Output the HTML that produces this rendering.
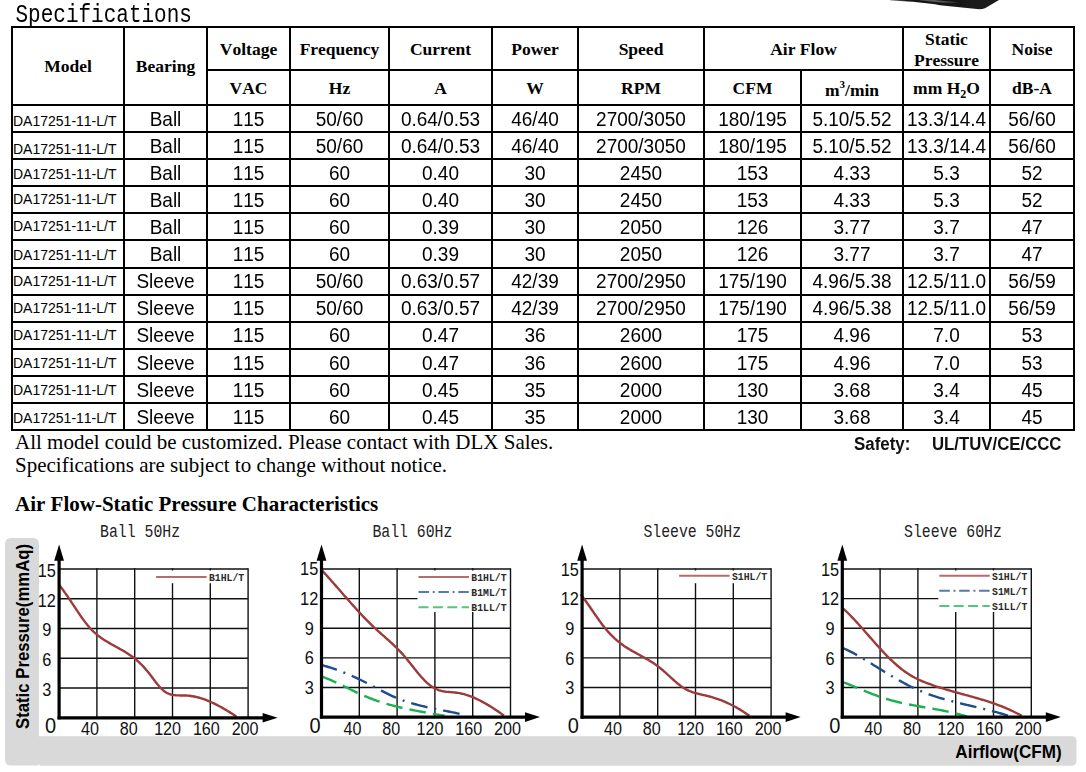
<!DOCTYPE html>
<html><head><meta charset="utf-8">
<style>
html,body{margin:0;padding:0;background:#fff;}
body{width:1086px;height:772px;position:relative;overflow:hidden;font-kerning:none;}
.l{position:absolute;background:#000;}
.t{position:absolute;white-space:nowrap;text-align:center;line-height:1;}
.h{font-family:"Liberation Serif",serif;font-weight:bold;font-size:17.5px;color:#000;}
.d{font-family:"Liberation Sans",sans-serif;font-size:19px;color:#000;}
.d span{display:inline-block;transform:scaleY(1.07);}
.m{font-family:"Liberation Sans",sans-serif;font-size:14px;color:#000;}
.mono{font-family:"Liberation Mono",monospace;}
svg text{font-kerning:none;}
</style></head><body>

<svg style="position:absolute;left:0;top:0" width="1086" height="30">
<defs><linearGradient id="fg" x1="0" y1="0" x2="1" y2="0">
<stop offset="0" stop-color="#ccc"/><stop offset="0.1" stop-color="#666"/><stop offset="0.2" stop-color="#151515"/><stop offset="1" stop-color="#1c1c1c"/></linearGradient>
<filter id="fb" x="-5%" y="-50%" width="110%" height="200%"><feGaussianBlur stdDeviation="0.7"/></filter></defs>
<g filter="url(#fb)">
<path d="M884,-2 L999,-2 L999,0 L985,8.3 Q981,9.6 977,9.1 L962,7.5 L940,5.2 L935,4.2 L913,1.7 L891,0.6 Z" fill="url(#fg)"/>
<path d="M918,0 Q940,3.2 958,2.4 Q945,1.2 935,0 Z" fill="#777" opacity="0.7"/>
</g>
</svg>
<div class="t mono" style="left:15.5px;top:2.5px;font-size:21px;text-align:left;transform:scaleY(1.186);transform-origin:0 0;">Specifications</div>
<div class="l" style="left:11px;top:26.00px;width:1064px;height:2px"></div>
<div class="l" style="left:206px;top:69.00px;width:869px;height:2px"></div>
<div class="l" style="left:11px;top:104.00px;width:1064px;height:2px"></div>
<div class="l" style="left:11px;top:131.08px;width:1064px;height:2px"></div>
<div class="l" style="left:11px;top:158.17px;width:1064px;height:2px"></div>
<div class="l" style="left:11px;top:185.25px;width:1064px;height:2px"></div>
<div class="l" style="left:11px;top:212.33px;width:1064px;height:2px"></div>
<div class="l" style="left:11px;top:239.42px;width:1064px;height:2px"></div>
<div class="l" style="left:11px;top:266.50px;width:1064px;height:2px"></div>
<div class="l" style="left:11px;top:293.58px;width:1064px;height:2px"></div>
<div class="l" style="left:11px;top:320.67px;width:1064px;height:2px"></div>
<div class="l" style="left:11px;top:347.75px;width:1064px;height:2px"></div>
<div class="l" style="left:11px;top:374.83px;width:1064px;height:2px"></div>
<div class="l" style="left:11px;top:401.92px;width:1064px;height:2px"></div>
<div class="l" style="left:11px;top:429.00px;width:1064px;height:2px"></div>
<div class="l" style="left:11px;top:26.00px;width:2px;height:405.00px"></div>
<div class="l" style="left:123px;top:26.00px;width:2px;height:405.00px"></div>
<div class="l" style="left:206px;top:26.00px;width:2px;height:405.00px"></div>
<div class="l" style="left:289px;top:26.00px;width:2px;height:405.00px"></div>
<div class="l" style="left:388px;top:26.00px;width:2px;height:405.00px"></div>
<div class="l" style="left:491px;top:26.00px;width:2px;height:405.00px"></div>
<div class="l" style="left:577px;top:26.00px;width:2px;height:405.00px"></div>
<div class="l" style="left:703px;top:26.00px;width:2px;height:405.00px"></div>
<div class="l" style="left:800px;top:69.00px;width:2px;height:362.00px"></div>
<div class="l" style="left:902px;top:26.00px;width:2px;height:405.00px"></div>
<div class="l" style="left:989px;top:26.00px;width:2px;height:405.00px"></div>
<div class="l" style="left:1073px;top:26.00px;width:2px;height:405.00px"></div>
<div class="t h" style="left:13px;width:110px;top:57.50px;">Model</div>
<div class="t h" style="left:125px;width:81px;top:57.50px;">Bearing</div>
<div class="t h" style="left:208px;width:81px;top:41.00px;">Voltage</div>
<div class="t h" style="left:291px;width:97px;top:41.00px;">Frequency</div>
<div class="t h" style="left:390px;width:101px;top:41.00px;">Current</div>
<div class="t h" style="left:493px;width:84px;top:41.00px;">Power</div>
<div class="t h" style="left:579px;width:124px;top:41.00px;">Speed</div>
<div class="t h" style="left:705px;width:197px;top:41.00px;">Air Flow</div>
<div class="t h" style="left:904px;width:85px;top:29.00px;line-height:21px;">Static<br>Pressure</div>
<div class="t h" style="left:991px;width:82px;top:41.00px;">Noise</div>
<div class="t h" style="left:208px;width:81px;top:80.30px;">VAC</div>
<div class="t h" style="left:291px;width:97px;top:80.30px;">Hz</div>
<div class="t h" style="left:390px;width:101px;top:80.30px;">A</div>
<div class="t h" style="left:493px;width:84px;top:80.30px;">W</div>
<div class="t h" style="left:579px;width:124px;top:80.30px;">RPM</div>
<div class="t h" style="left:705px;width:95px;top:80.30px;">CFM</div>
<div class="t h" style="left:802px;width:100px;top:80.30px;"><span style="position:relative;top:1.5px">m<sup style="font-size:11px;vertical-align:8px;line-height:0">3</sup>/min</span></div>
<div class="t h" style="left:904px;width:85px;top:80.30px;">mm H<sub style="font-size:12px;vertical-align:-4px;line-height:0">2</sub>O</div>
<div class="t h" style="left:991px;width:82px;top:80.30px;">dB-A</div>
<div class="t m" style="left:13px;width:110px;top:114.30px;text-align:left;padding-left:0px;">DA17251-11-L/T</div>
<div class="t d" style="left:125px;width:81px;top:109.80px;"><span>Ball</span></div>
<div class="t d" style="left:208px;width:81px;top:109.80px;"><span>115</span></div>
<div class="t d" style="left:291px;width:97px;top:109.80px;"><span>50/60</span></div>
<div class="t d" style="left:390px;width:101px;top:109.80px;"><span>0.64/0.53</span></div>
<div class="t d" style="left:493px;width:84px;top:109.80px;"><span>46/40</span></div>
<div class="t d" style="left:579px;width:124px;top:109.80px;"><span>2700/3050</span></div>
<div class="t d" style="left:705px;width:95px;top:109.80px;"><span>180/195</span></div>
<div class="t d" style="left:802px;width:100px;top:109.80px;"><span>5.10/5.52</span></div>
<div class="t d" style="left:904px;width:85px;top:109.80px;"><span>13.3/14.4</span></div>
<div class="t d" style="left:991px;width:82px;top:109.80px;"><span>56/60</span></div>
<div class="t m" style="left:13px;width:110px;top:141.58px;text-align:left;padding-left:0px;">DA17251-11-L/T</div>
<div class="t d" style="left:125px;width:81px;top:136.88px;"><span>Ball</span></div>
<div class="t d" style="left:208px;width:81px;top:136.88px;"><span>115</span></div>
<div class="t d" style="left:291px;width:97px;top:136.88px;"><span>50/60</span></div>
<div class="t d" style="left:390px;width:101px;top:136.88px;"><span>0.64/0.53</span></div>
<div class="t d" style="left:493px;width:84px;top:136.88px;"><span>46/40</span></div>
<div class="t d" style="left:579px;width:124px;top:136.88px;"><span>2700/3050</span></div>
<div class="t d" style="left:705px;width:95px;top:136.88px;"><span>180/195</span></div>
<div class="t d" style="left:802px;width:100px;top:136.88px;"><span>5.10/5.52</span></div>
<div class="t d" style="left:904px;width:85px;top:136.88px;"><span>13.3/14.4</span></div>
<div class="t d" style="left:991px;width:82px;top:136.88px;"><span>56/60</span></div>
<div class="t m" style="left:13px;width:110px;top:166.77px;text-align:left;padding-left:0px;">DA17251-11-L/T</div>
<div class="t d" style="left:125px;width:81px;top:163.97px;"><span>Ball</span></div>
<div class="t d" style="left:208px;width:81px;top:163.97px;"><span>115</span></div>
<div class="t d" style="left:291px;width:97px;top:163.97px;"><span>60</span></div>
<div class="t d" style="left:390px;width:101px;top:163.97px;"><span>0.40</span></div>
<div class="t d" style="left:493px;width:84px;top:163.97px;"><span>30</span></div>
<div class="t d" style="left:579px;width:124px;top:163.97px;"><span>2450</span></div>
<div class="t d" style="left:705px;width:95px;top:163.97px;"><span>153</span></div>
<div class="t d" style="left:802px;width:100px;top:163.97px;"><span>4.33</span></div>
<div class="t d" style="left:904px;width:85px;top:163.97px;"><span>5.3</span></div>
<div class="t d" style="left:991px;width:82px;top:163.97px;"><span>52</span></div>
<div class="t m" style="left:13px;width:110px;top:192.05px;text-align:left;padding-left:0px;">DA17251-11-L/T</div>
<div class="t d" style="left:125px;width:81px;top:191.05px;"><span>Ball</span></div>
<div class="t d" style="left:208px;width:81px;top:191.05px;"><span>115</span></div>
<div class="t d" style="left:291px;width:97px;top:191.05px;"><span>60</span></div>
<div class="t d" style="left:390px;width:101px;top:191.05px;"><span>0.40</span></div>
<div class="t d" style="left:493px;width:84px;top:191.05px;"><span>30</span></div>
<div class="t d" style="left:579px;width:124px;top:191.05px;"><span>2450</span></div>
<div class="t d" style="left:705px;width:95px;top:191.05px;"><span>153</span></div>
<div class="t d" style="left:802px;width:100px;top:191.05px;"><span>4.33</span></div>
<div class="t d" style="left:904px;width:85px;top:191.05px;"><span>5.3</span></div>
<div class="t d" style="left:991px;width:82px;top:191.05px;"><span>52</span></div>
<div class="t m" style="left:13px;width:110px;top:219.33px;text-align:left;padding-left:0px;">DA17251-11-L/T</div>
<div class="t d" style="left:125px;width:81px;top:218.13px;"><span>Ball</span></div>
<div class="t d" style="left:208px;width:81px;top:218.13px;"><span>115</span></div>
<div class="t d" style="left:291px;width:97px;top:218.13px;"><span>60</span></div>
<div class="t d" style="left:390px;width:101px;top:218.13px;"><span>0.39</span></div>
<div class="t d" style="left:493px;width:84px;top:218.13px;"><span>30</span></div>
<div class="t d" style="left:579px;width:124px;top:218.13px;"><span>2050</span></div>
<div class="t d" style="left:705px;width:95px;top:218.13px;"><span>126</span></div>
<div class="t d" style="left:802px;width:100px;top:218.13px;"><span>3.77</span></div>
<div class="t d" style="left:904px;width:85px;top:218.13px;"><span>3.7</span></div>
<div class="t d" style="left:991px;width:82px;top:218.13px;"><span>47</span></div>
<div class="t m" style="left:13px;width:110px;top:247.62px;text-align:left;padding-left:0px;">DA17251-11-L/T</div>
<div class="t d" style="left:125px;width:81px;top:245.22px;"><span>Ball</span></div>
<div class="t d" style="left:208px;width:81px;top:245.22px;"><span>115</span></div>
<div class="t d" style="left:291px;width:97px;top:245.22px;"><span>60</span></div>
<div class="t d" style="left:390px;width:101px;top:245.22px;"><span>0.39</span></div>
<div class="t d" style="left:493px;width:84px;top:245.22px;"><span>30</span></div>
<div class="t d" style="left:579px;width:124px;top:245.22px;"><span>2050</span></div>
<div class="t d" style="left:705px;width:95px;top:245.22px;"><span>126</span></div>
<div class="t d" style="left:802px;width:100px;top:245.22px;"><span>3.77</span></div>
<div class="t d" style="left:904px;width:85px;top:245.22px;"><span>3.7</span></div>
<div class="t d" style="left:991px;width:82px;top:245.22px;"><span>47</span></div>
<div class="t m" style="left:13px;width:110px;top:274.40px;text-align:left;padding-left:0px;">DA17251-11-L/T</div>
<div class="t d" style="left:125px;width:81px;top:272.30px;"><span>Sleeve</span></div>
<div class="t d" style="left:208px;width:81px;top:272.30px;"><span>115</span></div>
<div class="t d" style="left:291px;width:97px;top:272.30px;"><span>50/60</span></div>
<div class="t d" style="left:390px;width:101px;top:272.30px;"><span>0.63/0.57</span></div>
<div class="t d" style="left:493px;width:84px;top:272.30px;"><span>42/39</span></div>
<div class="t d" style="left:579px;width:124px;top:272.30px;"><span>2700/2950</span></div>
<div class="t d" style="left:705px;width:95px;top:272.30px;"><span>175/190</span></div>
<div class="t d" style="left:802px;width:100px;top:272.30px;"><span>4.96/5.38</span></div>
<div class="t d" style="left:904px;width:85px;top:272.30px;"><span>12.5/11.0</span></div>
<div class="t d" style="left:991px;width:82px;top:272.30px;"><span>56/59</span></div>
<div class="t m" style="left:13px;width:110px;top:301.28px;text-align:left;padding-left:0px;">DA17251-11-L/T</div>
<div class="t d" style="left:125px;width:81px;top:299.38px;"><span>Sleeve</span></div>
<div class="t d" style="left:208px;width:81px;top:299.38px;"><span>115</span></div>
<div class="t d" style="left:291px;width:97px;top:299.38px;"><span>50/60</span></div>
<div class="t d" style="left:390px;width:101px;top:299.38px;"><span>0.63/0.57</span></div>
<div class="t d" style="left:493px;width:84px;top:299.38px;"><span>42/39</span></div>
<div class="t d" style="left:579px;width:124px;top:299.38px;"><span>2700/2950</span></div>
<div class="t d" style="left:705px;width:95px;top:299.38px;"><span>175/190</span></div>
<div class="t d" style="left:802px;width:100px;top:299.38px;"><span>4.96/5.38</span></div>
<div class="t d" style="left:904px;width:85px;top:299.38px;"><span>12.5/11.0</span></div>
<div class="t d" style="left:991px;width:82px;top:299.38px;"><span>56/59</span></div>
<div class="t m" style="left:13px;width:110px;top:328.47px;text-align:left;padding-left:0px;">DA17251-11-L/T</div>
<div class="t d" style="left:125px;width:81px;top:326.47px;"><span>Sleeve</span></div>
<div class="t d" style="left:208px;width:81px;top:326.47px;"><span>115</span></div>
<div class="t d" style="left:291px;width:97px;top:326.47px;"><span>60</span></div>
<div class="t d" style="left:390px;width:101px;top:326.47px;"><span>0.47</span></div>
<div class="t d" style="left:493px;width:84px;top:326.47px;"><span>36</span></div>
<div class="t d" style="left:579px;width:124px;top:326.47px;"><span>2600</span></div>
<div class="t d" style="left:705px;width:95px;top:326.47px;"><span>175</span></div>
<div class="t d" style="left:802px;width:100px;top:326.47px;"><span>4.96</span></div>
<div class="t d" style="left:904px;width:85px;top:326.47px;"><span>7.0</span></div>
<div class="t d" style="left:991px;width:82px;top:326.47px;"><span>53</span></div>
<div class="t m" style="left:13px;width:110px;top:356.15px;text-align:left;padding-left:0px;">DA17251-11-L/T</div>
<div class="t d" style="left:125px;width:81px;top:353.55px;"><span>Sleeve</span></div>
<div class="t d" style="left:208px;width:81px;top:353.55px;"><span>115</span></div>
<div class="t d" style="left:291px;width:97px;top:353.55px;"><span>60</span></div>
<div class="t d" style="left:390px;width:101px;top:353.55px;"><span>0.47</span></div>
<div class="t d" style="left:493px;width:84px;top:353.55px;"><span>36</span></div>
<div class="t d" style="left:579px;width:124px;top:353.55px;"><span>2600</span></div>
<div class="t d" style="left:705px;width:95px;top:353.55px;"><span>175</span></div>
<div class="t d" style="left:802px;width:100px;top:353.55px;"><span>4.96</span></div>
<div class="t d" style="left:904px;width:85px;top:353.55px;"><span>7.0</span></div>
<div class="t d" style="left:991px;width:82px;top:353.55px;"><span>53</span></div>
<div class="t m" style="left:13px;width:110px;top:382.73px;text-align:left;padding-left:0px;">DA17251-11-L/T</div>
<div class="t d" style="left:125px;width:81px;top:380.63px;"><span>Sleeve</span></div>
<div class="t d" style="left:208px;width:81px;top:380.63px;"><span>115</span></div>
<div class="t d" style="left:291px;width:97px;top:380.63px;"><span>60</span></div>
<div class="t d" style="left:390px;width:101px;top:380.63px;"><span>0.45</span></div>
<div class="t d" style="left:493px;width:84px;top:380.63px;"><span>35</span></div>
<div class="t d" style="left:579px;width:124px;top:380.63px;"><span>2000</span></div>
<div class="t d" style="left:705px;width:95px;top:380.63px;"><span>130</span></div>
<div class="t d" style="left:802px;width:100px;top:380.63px;"><span>3.68</span></div>
<div class="t d" style="left:904px;width:85px;top:380.63px;"><span>3.4</span></div>
<div class="t d" style="left:991px;width:82px;top:380.63px;"><span>45</span></div>
<div class="t m" style="left:13px;width:110px;top:411.42px;text-align:left;padding-left:0px;">DA17251-11-L/T</div>
<div class="t d" style="left:125px;width:81px;top:407.72px;"><span>Sleeve</span></div>
<div class="t d" style="left:208px;width:81px;top:407.72px;"><span>115</span></div>
<div class="t d" style="left:291px;width:97px;top:407.72px;"><span>60</span></div>
<div class="t d" style="left:390px;width:101px;top:407.72px;"><span>0.45</span></div>
<div class="t d" style="left:493px;width:84px;top:407.72px;"><span>35</span></div>
<div class="t d" style="left:579px;width:124px;top:407.72px;"><span>2000</span></div>
<div class="t d" style="left:705px;width:95px;top:407.72px;"><span>130</span></div>
<div class="t d" style="left:802px;width:100px;top:407.72px;"><span>3.68</span></div>
<div class="t d" style="left:904px;width:85px;top:407.72px;"><span>3.4</span></div>
<div class="t d" style="left:991px;width:82px;top:407.72px;"><span>45</span></div>
<div class="t" style="left:15px;top:432px;text-align:left;font-family:'Liberation Serif',serif;font-size:21px;line-height:1;">All model could be customized. Please contact with DLX Sales.</div>
<div class="t" style="left:15px;top:454.6px;text-align:left;font-family:'Liberation Serif',serif;font-size:21px;line-height:1;">Specifications are subject to change without notice.</div>
<div class="t" style="left:15px;top:494px;text-align:left;font-family:'Liberation Serif',serif;font-weight:bold;font-size:21px;">Air Flow-Static Pressure Characteristics</div>
<div class="t" style="left:854px;top:435.5px;text-align:left;font-family:'Liberation Sans',sans-serif;font-weight:bold;font-size:17.5px;color:#111;transform:scaleX(0.965);transform-origin:0 0;">Safety:</div>
<div class="t" style="left:932px;top:435.5px;text-align:left;font-family:'Liberation Sans',sans-serif;font-weight:bold;font-size:17.5px;color:#111;transform:scaleX(0.958);transform-origin:0 0;">UL/TUV/CE/CCC</div>
<svg style="position:absolute;left:0;top:0" width="1086" height="772">
<path d="M11,538 L33,538 Q39,538 39,544 L39,763.5 Q39,765.5 37,765.5 L11,765.5 Q5,765.5 5,759.5 L5,544 Q5,538 11,538 Z" fill="#d9d9d9"/>
<path d="M39,736.2 L1071.5,736.2 Q1076.5,736.2 1076.5,741.2 L1076.5,760.8 Q1076.5,765.8 1071.5,765.8 L41.5,765.8 Q39,765.8 39,763.3 Z" fill="#d9d9d9"/>
<text transform="translate(29.4,729) rotate(-90) scale(0.93,1)" font-family="Liberation Sans" font-weight="bold" font-size="18" fill="#000">Static Pressure(mmAq)</text>
<text transform="translate(955.3,758) scale(0.95,1)" font-family="Liberation Sans" font-weight="bold" font-size="18" fill="#000">Airflow(CFM)</text>
<text transform="translate(100.10000000000001,537.3) scale(0.975,1.15)" font-family="Liberation Mono" font-size="15.2" fill="#222">Ball&#160;50Hz</text>
<line x1="59.1" y1="688.04" x2="248.1" y2="688.04" stroke="#111" stroke-width="1.4"/>
<line x1="59.1" y1="658.28" x2="248.1" y2="658.28" stroke="#111" stroke-width="1.4"/>
<line x1="59.1" y1="628.52" x2="248.1" y2="628.52" stroke="#111" stroke-width="1.4"/>
<line x1="59.1" y1="598.76" x2="248.1" y2="598.76" stroke="#111" stroke-width="1.4"/>
<line x1="59.1" y1="569.00" x2="248.1" y2="569.00" stroke="#111" stroke-width="1.4"/>
<line x1="96.9" y1="568.30" x2="96.9" y2="717.80" stroke="#111" stroke-width="1.4"/>
<line x1="134.7" y1="568.30" x2="134.7" y2="717.80" stroke="#111" stroke-width="1.4"/>
<line x1="172.5" y1="568.30" x2="172.5" y2="570.50" stroke="#111" stroke-width="1.4"/>
<line x1="172.5" y1="583.20" x2="172.5" y2="717.80" stroke="#111" stroke-width="1.4"/>
<line x1="210.3" y1="568.30" x2="210.3" y2="570.50" stroke="#111" stroke-width="1.4"/>
<line x1="210.3" y1="583.20" x2="210.3" y2="717.80" stroke="#111" stroke-width="1.4"/>
<line x1="248.1" y1="568.30" x2="248.1" y2="717.80" stroke="#111" stroke-width="1.4"/>
<path d="M58.9,584.68 L60.4,586.53 L61.9,588.48 L63.4,590.49 L64.9,592.58 L66.4,594.72 L67.9,596.90 L69.4,599.12 L70.9,601.37 L72.4,603.64 L73.9,605.91 L75.4,608.18 L76.9,610.43 L78.4,612.66 L79.9,614.86 L81.4,617.01 L82.9,619.11 L84.4,621.15 L85.9,623.11 L87.4,624.99 L88.9,626.78 L90.4,628.47 L91.9,630.04 L93.4,631.52 L94.9,632.91 L96.4,634.21 L97.9,635.43 L99.4,636.59 L100.9,637.68 L102.4,638.72 L103.9,639.72 L105.4,640.67 L106.9,641.59 L108.4,642.49 L109.9,643.36 L111.4,644.21 L112.9,645.05 L114.4,645.88 L115.9,646.70 L117.4,647.52 L118.9,648.35 L120.4,649.19 L121.9,650.04 L123.4,650.91 L124.9,651.80 L126.4,652.72 L127.9,653.68 L129.4,654.67 L130.9,655.71 L132.4,656.79 L133.9,657.92 L135.4,659.11 L136.9,660.36 L138.4,661.67 L139.9,663.06 L141.4,664.52 L142.9,666.06 L144.4,667.68 L145.9,669.40 L147.4,671.21 L148.9,673.09 L150.4,675.04 L151.9,677.02 L153.4,679.00 L154.9,680.97 L156.4,682.89 L157.9,684.74 L159.4,686.49 L160.9,688.13 L162.4,689.61 L163.9,690.93 L165.4,692.05 L166.9,692.96 L168.4,693.67 L169.9,694.22 L171.4,694.63 L172.9,694.93 L174.4,695.15 L175.9,695.29 L177.4,695.38 L178.9,695.42 L180.4,695.44 L181.9,695.45 L183.4,695.46 L184.9,695.49 L186.4,695.55 L187.9,695.65 L189.4,695.80 L190.9,695.98 L192.4,696.21 L193.9,696.48 L195.4,696.79 L196.9,697.14 L198.4,697.52 L199.9,697.95 L201.4,698.40 L202.9,698.89 L204.4,699.42 L205.9,699.97 L207.4,700.56 L208.9,701.18 L210.4,701.82 L211.9,702.50 L213.4,703.20 L214.9,703.92 L216.4,704.67 L217.9,705.45 L219.4,706.25 L220.9,707.07 L222.4,707.91 L223.9,708.77 L225.4,709.64 L226.9,710.54 L228.4,711.45 L229.9,712.38 L231.4,713.32 L232.9,714.27 L234.4,715.24 L235.9,716.22 L236.4,716.55" fill="none" stroke="#9c3b3b" stroke-width="2.4" stroke-linejoin="round"/>
<line x1="59.1" y1="560.0" x2="59.1" y2="719.30" stroke="#000" stroke-width="3.2"/>
<line x1="57.5" y1="717.80" x2="263.1" y2="717.80" stroke="#000" stroke-width="3.2"/>
<path d="M54.2,560.8 L59.1,544.5 L64.0,560.8 Z" fill="#000"/>
<path d="M262.6,713.00 L277.6,717.80 L262.6,722.60 Z" fill="#000"/>
<text transform="translate(50.5,732.6) scale(1.0,1.06)" text-anchor="middle" font-family="Liberation Sans" font-size="20" fill="#111">0</text>
<text transform="translate(90.10,734.6) scale(0.95,1.08)" text-anchor="middle" font-family="Liberation Sans" font-size="17" fill="#111">40</text>
<text transform="translate(128.85,734.6) scale(0.95,1.08)" text-anchor="middle" font-family="Liberation Sans" font-size="17" fill="#111">80</text>
<text transform="translate(167.60,734.6) scale(0.95,1.08)" text-anchor="middle" font-family="Liberation Sans" font-size="17" fill="#111">120</text>
<text transform="translate(206.35,734.6) scale(0.95,1.08)" text-anchor="middle" font-family="Liberation Sans" font-size="17" fill="#111">160</text>
<text transform="translate(245.10,734.6) scale(0.95,1.08)" text-anchor="middle" font-family="Liberation Sans" font-size="17" fill="#111">200</text>
<text transform="translate(46.8,695.84) scale(0.96,1.07)" text-anchor="middle" font-family="Liberation Sans" font-size="17" fill="#111">3</text>
<text transform="translate(46.8,666.08) scale(0.96,1.07)" text-anchor="middle" font-family="Liberation Sans" font-size="17" fill="#111">6</text>
<text transform="translate(46.8,636.32) scale(0.96,1.07)" text-anchor="middle" font-family="Liberation Sans" font-size="17" fill="#111">9</text>
<text transform="translate(46.8,606.56) scale(0.96,1.07)" text-anchor="middle" font-family="Liberation Sans" font-size="17" fill="#111">12</text>
<text transform="translate(46.8,576.80) scale(0.96,1.07)" text-anchor="middle" font-family="Liberation Sans" font-size="17" fill="#111">15</text>
<line x1="156.1" y1="577.00" x2="206.6" y2="577.00" stroke="#9c3b3b" stroke-opacity="0.75" stroke-width="2"/>
<text transform="translate(208.9,581.00) scale(1.0,1.2)" font-family="Liberation Mono" font-weight="bold" font-size="9.8" fill="#2a2a2a">B1HL/T</text>
<text transform="translate(372.4,537.3) scale(0.975,1.15)" font-family="Liberation Mono" font-size="15.2" fill="#222">Ball&#160;60Hz</text>
<line x1="321.5" y1="687.48" x2="510.5" y2="687.48" stroke="#111" stroke-width="1.4"/>
<line x1="321.5" y1="657.86" x2="510.5" y2="657.86" stroke="#111" stroke-width="1.4"/>
<line x1="321.5" y1="628.24" x2="510.5" y2="628.24" stroke="#111" stroke-width="1.4"/>
<line x1="321.5" y1="598.62" x2="417.5" y2="598.62" stroke="#111" stroke-width="1.4"/>
<line x1="321.5" y1="569.00" x2="510.5" y2="569.00" stroke="#111" stroke-width="1.4"/>
<line x1="359.3" y1="568.30" x2="359.3" y2="717.10" stroke="#111" stroke-width="1.4"/>
<line x1="397.1" y1="568.30" x2="397.1" y2="717.10" stroke="#111" stroke-width="1.4"/>
<line x1="434.9" y1="568.30" x2="434.9" y2="570.50" stroke="#111" stroke-width="1.4"/>
<line x1="434.9" y1="612.00" x2="434.9" y2="717.10" stroke="#111" stroke-width="1.4"/>
<line x1="472.7" y1="568.30" x2="472.7" y2="570.50" stroke="#111" stroke-width="1.4"/>
<line x1="472.7" y1="612.00" x2="472.7" y2="717.10" stroke="#111" stroke-width="1.4"/>
<line x1="510.5" y1="568.30" x2="510.5" y2="717.10" stroke="#111" stroke-width="1.4"/>
<path d="M321.5,569.84 L323.0,571.46 L324.5,573.10 L326.0,574.75 L327.5,576.41 L329.0,578.09 L330.5,579.77 L332.0,581.47 L333.5,583.17 L335.0,584.88 L336.5,586.59 L338.0,588.30 L339.5,590.02 L341.0,591.74 L342.5,593.46 L344.0,595.18 L345.5,596.89 L347.0,598.60 L348.5,600.31 L350.0,602.01 L351.5,603.70 L353.0,605.38 L354.5,607.05 L356.0,608.72 L357.5,610.36 L359.0,612.00 L360.5,613.62 L362.0,615.22 L363.5,616.80 L365.0,618.37 L366.5,619.91 L368.0,621.44 L369.5,622.94 L371.0,624.41 L372.5,625.86 L374.0,627.29 L375.5,628.68 L377.0,630.06 L378.5,631.41 L380.0,632.75 L381.5,634.07 L383.0,635.39 L384.5,636.71 L386.0,638.03 L387.5,639.36 L389.0,640.70 L390.5,642.06 L392.0,643.43 L393.5,644.84 L395.0,646.27 L396.5,647.74 L398.0,649.24 L399.5,650.80 L401.0,652.40 L402.5,654.05 L404.0,655.76 L405.5,657.52 L407.0,659.34 L408.5,661.18 L410.0,663.06 L411.5,664.94 L413.0,666.84 L414.5,668.72 L416.0,670.59 L417.5,672.43 L419.0,674.23 L420.5,675.98 L422.0,677.68 L423.5,679.30 L425.0,680.85 L426.5,682.31 L428.0,683.67 L429.5,684.93 L431.0,686.06 L432.5,687.08 L434.0,687.98 L435.5,688.77 L437.0,689.44 L438.5,690.02 L440.0,690.50 L441.5,690.89 L443.0,691.22 L444.5,691.48 L446.0,691.70 L447.5,691.87 L449.0,692.02 L450.5,692.15 L452.0,692.28 L453.5,692.40 L455.0,692.55 L456.5,692.72 L458.0,692.93 L459.5,693.18 L461.0,693.48 L462.5,693.82 L464.0,694.20 L465.5,694.62 L467.0,695.08 L468.5,695.57 L470.0,696.11 L471.5,696.68 L473.0,697.28 L474.5,697.92 L476.0,698.59 L477.5,699.29 L479.0,700.02 L480.5,700.78 L482.0,701.57 L483.5,702.38 L485.0,703.23 L486.5,704.09 L488.0,704.98 L489.5,705.89 L491.0,706.83 L492.5,707.78 L494.0,708.75 L495.5,709.74 L497.0,710.75 L498.5,711.77 L500.0,712.81 L501.5,713.86 L503.0,714.93 L503.9,715.57" fill="none" stroke="#9c3b3b" stroke-width="2.4" stroke-linejoin="round"/>
<path d="M320.8,664.80 L322.3,665.21 L323.8,665.63 L325.3,666.07 L326.8,666.52 L328.3,666.98 L329.8,667.46 L331.3,667.95 L332.8,668.45 L334.3,668.96 L335.8,669.48 L337.3,670.02 L338.8,670.57 L340.3,671.13 L341.8,671.71 L343.3,672.29 L344.8,672.89 L346.3,673.50 L347.8,674.13 L349.3,674.76 L350.8,675.40 L352.3,676.06 L353.8,676.73 L355.3,677.41 L356.8,678.10 L358.3,678.80 L359.8,679.52 L361.3,680.24 L362.8,680.98 L364.3,681.72 L365.8,682.48 L367.3,683.25 L368.8,684.02 L370.3,684.81 L371.8,685.60 L373.3,686.39 L374.8,687.19 L376.3,687.99 L377.8,688.78 L379.3,689.58 L380.8,690.37 L382.3,691.15 L383.8,691.92 L385.3,692.68 L386.8,693.44 L388.3,694.18 L389.8,694.90 L391.3,695.61 L392.8,696.29 L394.3,696.96 L395.8,697.61 L397.3,698.23 L398.8,698.83 L400.3,699.42 L401.8,699.98 L403.3,700.52 L404.8,701.05 L406.3,701.56 L407.8,702.05 L409.3,702.52 L410.8,702.98 L412.3,703.43 L413.8,703.86 L415.3,704.27 L416.8,704.68 L418.3,705.07 L419.8,705.45 L421.3,705.82 L422.8,706.18 L424.3,706.53 L425.8,706.87 L427.3,707.21 L428.8,707.54 L430.3,707.86 L431.8,708.17 L433.3,708.48 L434.8,708.79 L436.3,709.09 L437.8,709.39 L439.3,709.69 L440.8,709.98 L442.3,710.28 L443.8,710.57 L445.3,710.87 L446.8,711.16 L448.3,711.46 L449.8,711.76 L451.3,712.07 L452.8,712.38 L454.3,712.69 L455.8,713.01 L457.3,713.33 L458.8,713.66 L460.3,714.00 L461.8,714.35 L463.3,714.70 L464.8,715.07 L465.7,715.29" fill="none" stroke="#1f4e8c" stroke-width="2.4" stroke-linejoin="round" stroke-dasharray="16.8 7 2 7"/>
<path d="M321.0,676.43 L322.5,676.89 L324.0,677.40 L325.5,677.93 L327.0,678.51 L328.5,679.11 L330.0,679.73 L331.5,680.38 L333.0,681.05 L334.5,681.74 L336.0,682.44 L337.5,683.15 L339.0,683.87 L340.5,684.59 L342.0,685.32 L343.5,686.05 L345.0,686.78 L346.5,687.52 L348.0,688.25 L349.5,688.98 L351.0,689.71 L352.5,690.44 L354.0,691.16 L355.5,691.87 L357.0,692.58 L358.5,693.28 L360.0,693.96 L361.5,694.64 L363.0,695.30 L364.5,695.95 L366.0,696.59 L367.5,697.21 L369.0,697.81 L370.5,698.40 L372.0,698.97 L373.5,699.53 L375.0,700.07 L376.5,700.60 L378.0,701.12 L379.5,701.62 L381.0,702.11 L382.5,702.59 L384.0,703.05 L385.5,703.51 L387.0,703.95 L388.5,704.38 L390.0,704.80 L391.5,705.21 L393.0,705.61 L394.5,705.99 L396.0,706.37 L397.5,706.74 L399.0,707.11 L400.5,707.46 L402.0,707.81 L403.5,708.14 L405.0,708.47 L406.5,708.80 L408.0,709.11 L409.5,709.42 L411.0,709.73 L412.5,710.03 L414.0,710.32 L415.5,710.61 L417.0,710.90 L418.5,711.18 L420.0,711.45 L421.5,711.73 L423.0,712.00 L424.5,712.26 L426.0,712.53 L427.5,712.79 L429.0,713.05 L430.5,713.31 L432.0,713.57 L433.5,713.83 L435.0,714.08 L436.5,714.34 L438.0,714.60 L439.5,714.86 L441.0,715.12 L442.5,715.38 L444.0,715.64 L444.8,715.78" fill="none" stroke="#1db050" stroke-width="2.4" stroke-linejoin="round" stroke-dasharray="16.5 7.2"/>
<line x1="321.5" y1="560.0" x2="321.5" y2="718.60" stroke="#000" stroke-width="3.2"/>
<line x1="319.9" y1="717.10" x2="525.5" y2="717.10" stroke="#000" stroke-width="3.2"/>
<path d="M316.6,560.8 L321.5,544.5 L326.4,560.8 Z" fill="#000"/>
<path d="M525.0,712.30 L540.0,717.10 L525.0,721.90 Z" fill="#000"/>
<text transform="translate(315.0,732.6) scale(1.0,1.06)" text-anchor="middle" font-family="Liberation Sans" font-size="20" fill="#111">0</text>
<text transform="translate(352.50,734.6) scale(0.95,1.08)" text-anchor="middle" font-family="Liberation Sans" font-size="17" fill="#111">40</text>
<text transform="translate(391.25,734.6) scale(0.95,1.08)" text-anchor="middle" font-family="Liberation Sans" font-size="17" fill="#111">80</text>
<text transform="translate(430.00,734.6) scale(0.95,1.08)" text-anchor="middle" font-family="Liberation Sans" font-size="17" fill="#111">120</text>
<text transform="translate(468.75,734.6) scale(0.95,1.08)" text-anchor="middle" font-family="Liberation Sans" font-size="17" fill="#111">160</text>
<text transform="translate(507.50,734.6) scale(0.95,1.08)" text-anchor="middle" font-family="Liberation Sans" font-size="17" fill="#111">200</text>
<text transform="translate(309.2,693.78) scale(0.96,1.07)" text-anchor="middle" font-family="Liberation Sans" font-size="17" fill="#111">3</text>
<text transform="translate(309.2,664.16) scale(0.96,1.07)" text-anchor="middle" font-family="Liberation Sans" font-size="17" fill="#111">6</text>
<text transform="translate(309.2,634.54) scale(0.96,1.07)" text-anchor="middle" font-family="Liberation Sans" font-size="17" fill="#111">9</text>
<text transform="translate(309.2,604.92) scale(0.96,1.07)" text-anchor="middle" font-family="Liberation Sans" font-size="17" fill="#111">12</text>
<text transform="translate(309.2,575.30) scale(0.96,1.07)" text-anchor="middle" font-family="Liberation Sans" font-size="17" fill="#111">15</text>
<line x1="418.5" y1="577.00" x2="469.0" y2="577.00" stroke="#9c3b3b" stroke-opacity="0.75" stroke-width="2"/>
<text transform="translate(471.3,581.00) scale(1.0,1.2)" font-family="Liberation Mono" font-weight="bold" font-size="9.8" fill="#2a2a2a">B1HL/T</text>
<line x1="418.5" y1="592.10" x2="469.0" y2="592.10" stroke="#1f4e8c" stroke-opacity="0.75" stroke-width="2" stroke-dasharray="10.5 3.7 2 3.7"/>
<text transform="translate(471.3,596.10) scale(1.0,1.2)" font-family="Liberation Mono" font-weight="bold" font-size="9.8" fill="#2a2a2a">B1ML/T</text>
<line x1="418.5" y1="607.20" x2="469.0" y2="607.20" stroke="#1db050" stroke-opacity="0.75" stroke-width="2" stroke-dasharray="10 4.4"/>
<text transform="translate(471.3,611.20) scale(1.0,1.2)" font-family="Liberation Mono" font-weight="bold" font-size="9.8" fill="#2a2a2a">B1LL/T</text>
<text transform="translate(643.4,537.3) scale(0.975,1.15)" font-family="Liberation Mono" font-size="15.2" fill="#222">Sleeve&#160;50Hz</text>
<line x1="582.1" y1="687.48" x2="771.1" y2="687.48" stroke="#111" stroke-width="1.4"/>
<line x1="582.1" y1="657.86" x2="771.1" y2="657.86" stroke="#111" stroke-width="1.4"/>
<line x1="582.1" y1="628.24" x2="771.1" y2="628.24" stroke="#111" stroke-width="1.4"/>
<line x1="582.1" y1="598.62" x2="771.1" y2="598.62" stroke="#111" stroke-width="1.4"/>
<line x1="582.1" y1="569.00" x2="771.1" y2="569.00" stroke="#111" stroke-width="1.4"/>
<line x1="619.9" y1="568.30" x2="619.9" y2="717.10" stroke="#111" stroke-width="1.4"/>
<line x1="657.7" y1="568.30" x2="657.7" y2="717.10" stroke="#111" stroke-width="1.4"/>
<line x1="695.5" y1="568.30" x2="695.5" y2="570.50" stroke="#111" stroke-width="1.4"/>
<line x1="695.5" y1="583.20" x2="695.5" y2="717.10" stroke="#111" stroke-width="1.4"/>
<line x1="733.3" y1="568.30" x2="733.3" y2="570.50" stroke="#111" stroke-width="1.4"/>
<line x1="733.3" y1="583.20" x2="733.3" y2="717.10" stroke="#111" stroke-width="1.4"/>
<line x1="771.1" y1="568.30" x2="771.1" y2="717.10" stroke="#111" stroke-width="1.4"/>
<path d="M580.6,594.36 L582.1,596.24 L583.6,598.20 L585.1,600.22 L586.6,602.29 L588.1,604.41 L589.6,606.56 L591.1,608.73 L592.6,610.91 L594.1,613.10 L595.6,615.27 L597.1,617.43 L598.6,619.56 L600.1,621.65 L601.6,623.69 L603.1,625.68 L604.6,627.59 L606.1,629.42 L607.6,631.17 L609.1,632.84 L610.6,634.44 L612.1,635.96 L613.6,637.41 L615.1,638.80 L616.6,640.12 L618.1,641.39 L619.6,642.59 L621.1,643.74 L622.6,644.84 L624.1,645.90 L625.6,646.91 L627.1,647.88 L628.6,648.82 L630.1,649.73 L631.6,650.62 L633.1,651.48 L634.6,652.32 L636.1,653.16 L637.6,653.98 L639.1,654.80 L640.6,655.61 L642.1,656.43 L643.6,657.26 L645.1,658.10 L646.6,658.95 L648.1,659.83 L649.6,660.73 L651.1,661.65 L652.6,662.61 L654.1,663.60 L655.6,664.63 L657.1,665.71 L658.6,666.84 L660.1,668.02 L661.6,669.25 L663.1,670.53 L664.6,671.84 L666.1,673.19 L667.6,674.55 L669.1,675.92 L670.6,677.30 L672.1,678.66 L673.6,680.01 L675.1,681.33 L676.6,682.62 L678.1,683.86 L679.6,685.05 L681.1,686.17 L682.6,687.22 L684.1,688.19 L685.6,689.07 L687.1,689.86 L688.6,690.58 L690.1,691.23 L691.6,691.81 L693.1,692.34 L694.6,692.81 L696.1,693.25 L697.6,693.65 L699.1,694.03 L700.6,694.38 L702.1,694.73 L703.6,695.07 L705.1,695.41 L706.6,695.76 L708.1,696.14 L709.6,696.53 L711.1,696.94 L712.6,697.38 L714.1,697.84 L715.6,698.32 L717.1,698.83 L718.6,699.36 L720.1,699.91 L721.6,700.49 L723.1,701.09 L724.6,701.71 L726.1,702.36 L727.6,703.04 L729.1,703.73 L730.6,704.46 L732.1,705.21 L733.6,705.98 L735.1,706.79 L736.6,707.61 L738.1,708.47 L739.6,709.35 L741.1,710.25 L742.6,711.19 L744.1,712.15 L745.6,713.14 L747.1,714.15 L748.6,715.20 L749.5,715.84" fill="none" stroke="#9c3b3b" stroke-width="2.4" stroke-linejoin="round"/>
<line x1="582.1" y1="560.0" x2="582.1" y2="718.60" stroke="#000" stroke-width="3.2"/>
<line x1="580.5" y1="717.10" x2="786.1" y2="717.10" stroke="#000" stroke-width="3.2"/>
<path d="M577.2,560.8 L582.1,544.5 L587.0,560.8 Z" fill="#000"/>
<path d="M785.6,712.30 L800.6,717.10 L785.6,721.90 Z" fill="#000"/>
<text transform="translate(573.2,732.6) scale(1.0,1.06)" text-anchor="middle" font-family="Liberation Sans" font-size="20" fill="#111">0</text>
<text transform="translate(613.10,734.6) scale(0.95,1.08)" text-anchor="middle" font-family="Liberation Sans" font-size="17" fill="#111">40</text>
<text transform="translate(651.85,734.6) scale(0.95,1.08)" text-anchor="middle" font-family="Liberation Sans" font-size="17" fill="#111">80</text>
<text transform="translate(690.60,734.6) scale(0.95,1.08)" text-anchor="middle" font-family="Liberation Sans" font-size="17" fill="#111">120</text>
<text transform="translate(729.35,734.6) scale(0.95,1.08)" text-anchor="middle" font-family="Liberation Sans" font-size="17" fill="#111">160</text>
<text transform="translate(768.10,734.6) scale(0.95,1.08)" text-anchor="middle" font-family="Liberation Sans" font-size="17" fill="#111">200</text>
<text transform="translate(569.8,694.28) scale(0.96,1.07)" text-anchor="middle" font-family="Liberation Sans" font-size="17" fill="#111">3</text>
<text transform="translate(569.8,664.66) scale(0.96,1.07)" text-anchor="middle" font-family="Liberation Sans" font-size="17" fill="#111">6</text>
<text transform="translate(569.8,635.04) scale(0.96,1.07)" text-anchor="middle" font-family="Liberation Sans" font-size="17" fill="#111">9</text>
<text transform="translate(569.8,605.42) scale(0.96,1.07)" text-anchor="middle" font-family="Liberation Sans" font-size="17" fill="#111">12</text>
<text transform="translate(569.8,575.80) scale(0.96,1.07)" text-anchor="middle" font-family="Liberation Sans" font-size="17" fill="#111">15</text>
<line x1="679.1" y1="575.70" x2="729.6" y2="575.70" stroke="#9c3b3b" stroke-opacity="0.75" stroke-width="2"/>
<text transform="translate(731.9,579.70) scale(1.0,1.2)" font-family="Liberation Mono" font-weight="bold" font-size="9.8" fill="#2a2a2a">S1HL/T</text>
<text transform="translate(904.1,537.3) scale(0.975,1.15)" font-family="Liberation Mono" font-size="15.2" fill="#222">Sleeve&#160;60Hz</text>
<line x1="842.3" y1="687.48" x2="1031.3" y2="687.48" stroke="#111" stroke-width="1.4"/>
<line x1="842.3" y1="657.86" x2="1031.3" y2="657.86" stroke="#111" stroke-width="1.4"/>
<line x1="842.3" y1="628.24" x2="1031.3" y2="628.24" stroke="#111" stroke-width="1.4"/>
<line x1="842.3" y1="598.62" x2="938.3" y2="598.62" stroke="#111" stroke-width="1.4"/>
<line x1="842.3" y1="569.00" x2="1031.3" y2="569.00" stroke="#111" stroke-width="1.4"/>
<line x1="880.1" y1="568.30" x2="880.1" y2="717.10" stroke="#111" stroke-width="1.4"/>
<line x1="917.9" y1="568.30" x2="917.9" y2="717.10" stroke="#111" stroke-width="1.4"/>
<line x1="955.7" y1="568.30" x2="955.7" y2="570.50" stroke="#111" stroke-width="1.4"/>
<line x1="955.7" y1="612.00" x2="955.7" y2="717.10" stroke="#111" stroke-width="1.4"/>
<line x1="993.5" y1="568.30" x2="993.5" y2="570.50" stroke="#111" stroke-width="1.4"/>
<line x1="993.5" y1="612.00" x2="993.5" y2="717.10" stroke="#111" stroke-width="1.4"/>
<line x1="1031.3" y1="568.30" x2="1031.3" y2="717.10" stroke="#111" stroke-width="1.4"/>
<path d="M842.9,608.26 L844.4,609.64 L845.9,611.05 L847.4,612.51 L848.9,614.00 L850.4,615.52 L851.9,617.07 L853.4,618.65 L854.9,620.25 L856.4,621.88 L857.9,623.52 L859.4,625.19 L860.9,626.87 L862.4,628.56 L863.9,630.26 L865.4,631.97 L866.9,633.68 L868.4,635.40 L869.9,637.12 L871.4,638.83 L872.9,640.54 L874.4,642.25 L875.9,643.94 L877.4,645.62 L878.9,647.29 L880.4,648.93 L881.9,650.56 L883.4,652.17 L884.9,653.75 L886.4,655.31 L887.9,656.84 L889.4,658.33 L890.9,659.79 L892.4,661.21 L893.9,662.60 L895.4,663.95 L896.9,665.26 L898.4,666.53 L899.9,667.76 L901.4,668.95 L902.9,670.10 L904.4,671.21 L905.9,672.27 L907.4,673.30 L908.9,674.28 L910.4,675.21 L911.9,676.10 L913.4,676.95 L914.9,677.76 L916.4,678.53 L917.9,679.26 L919.4,679.97 L920.9,680.64 L922.4,681.29 L923.9,681.91 L925.4,682.51 L926.9,683.09 L928.4,683.65 L929.9,684.20 L931.4,684.74 L932.9,685.27 L934.4,685.78 L935.9,686.28 L937.4,686.78 L938.9,687.26 L940.4,687.74 L941.9,688.21 L943.4,688.67 L944.9,689.12 L946.4,689.57 L947.9,690.01 L949.4,690.45 L950.9,690.88 L952.4,691.31 L953.9,691.73 L955.4,692.15 L956.9,692.57 L958.4,692.98 L959.9,693.39 L961.4,693.81 L962.9,694.22 L964.4,694.63 L965.9,695.04 L967.4,695.45 L968.9,695.87 L970.4,696.29 L971.9,696.71 L973.4,697.13 L974.9,697.56 L976.4,697.99 L977.9,698.42 L979.4,698.86 L980.9,699.31 L982.4,699.76 L983.9,700.22 L985.4,700.69 L986.9,701.17 L988.4,701.65 L989.9,702.15 L991.4,702.65 L992.9,703.16 L994.4,703.69 L995.9,704.22 L997.4,704.77 L998.9,705.33 L1000.4,705.90 L1001.9,706.49 L1003.4,707.09 L1004.9,707.70 L1006.4,708.33 L1007.9,708.98 L1009.4,709.64 L1010.9,710.32 L1012.4,711.02 L1013.9,711.73 L1015.4,712.46 L1016.9,713.21 L1018.4,713.98 L1019.9,714.77 L1021.4,715.58 L1021.7,715.75" fill="none" stroke="#9c3b3b" stroke-width="2.4" stroke-linejoin="round"/>
<path d="M842.0,647.75 L843.5,648.35 L845.0,649.00 L846.5,649.67 L848.0,650.37 L849.5,651.10 L851.0,651.85 L852.5,652.63 L854.0,653.43 L855.5,654.25 L857.0,655.09 L858.5,655.95 L860.0,656.81 L861.5,657.69 L863.0,658.58 L864.5,659.48 L866.0,660.39 L867.5,661.30 L869.0,662.21 L870.5,663.13 L872.0,664.05 L873.5,664.98 L875.0,665.90 L876.5,666.83 L878.0,667.75 L879.5,668.68 L881.0,669.60 L882.5,670.53 L884.0,671.45 L885.5,672.36 L887.0,673.28 L888.5,674.18 L890.0,675.08 L891.5,675.98 L893.0,676.87 L894.5,677.75 L896.0,678.62 L897.5,679.48 L899.0,680.33 L900.5,681.17 L902.0,682.00 L903.5,682.82 L905.0,683.62 L906.5,684.41 L908.0,685.19 L909.5,685.95 L911.0,686.70 L912.5,687.42 L914.0,688.13 L915.5,688.83 L917.0,689.50 L918.5,690.16 L920.0,690.80 L921.5,691.42 L923.0,692.03 L924.5,692.62 L926.0,693.19 L927.5,693.75 L929.0,694.30 L930.5,694.84 L932.0,695.36 L933.5,695.86 L935.0,696.36 L936.5,696.84 L938.0,697.31 L939.5,697.78 L941.0,698.23 L942.5,698.67 L944.0,699.10 L945.5,699.53 L947.0,699.94 L948.5,700.35 L950.0,700.75 L951.5,701.14 L953.0,701.53 L954.5,701.91 L956.0,702.29 L957.5,702.66 L959.0,703.02 L960.5,703.39 L962.0,703.75 L963.5,704.10 L965.0,704.46 L966.5,704.81 L968.0,705.16 L969.5,705.51 L971.0,705.86 L972.5,706.21 L974.0,706.56 L975.5,706.91 L977.0,707.26 L978.5,707.62 L980.0,707.98 L981.5,708.34 L983.0,708.70 L984.5,709.07 L986.0,709.44 L987.5,709.82 L989.0,710.20 L990.5,710.59 L992.0,710.98 L993.5,711.38 L995.0,711.79 L996.5,712.21 L998.0,712.63 L999.5,713.07 L1001.0,713.51 L1002.5,713.97 L1004.0,714.43 L1005.5,714.90 L1007.0,715.39 L1008.0,715.72" fill="none" stroke="#1f4e8c" stroke-width="2.4" stroke-linejoin="round" stroke-dasharray="16.8 7 2 7"/>
<path d="M841.8,681.94 L843.3,682.40 L844.8,682.90 L846.3,683.42 L847.8,683.98 L849.3,684.56 L850.8,685.16 L852.3,685.78 L853.8,686.40 L855.3,687.04 L856.8,687.67 L858.3,688.30 L859.8,688.93 L861.3,689.56 L862.8,690.18 L864.3,690.80 L865.8,691.41 L867.3,692.01 L868.8,692.61 L870.3,693.20 L871.8,693.78 L873.3,694.36 L874.8,694.92 L876.3,695.48 L877.8,696.02 L879.3,696.55 L880.8,697.07 L882.3,697.58 L883.8,698.07 L885.3,698.55 L886.8,699.02 L888.3,699.47 L889.8,699.91 L891.3,700.33 L892.8,700.74 L894.3,701.14 L895.8,701.52 L897.3,701.89 L898.8,702.25 L900.3,702.60 L901.8,702.94 L903.3,703.27 L904.8,703.59 L906.3,703.91 L907.8,704.21 L909.3,704.51 L910.8,704.80 L912.3,705.09 L913.8,705.37 L915.3,705.65 L916.8,705.92 L918.3,706.19 L919.8,706.45 L921.3,706.71 L922.8,706.98 L924.3,707.23 L925.8,707.49 L927.3,707.75 L928.8,708.01 L930.3,708.27 L931.8,708.54 L933.3,708.80 L934.8,709.07 L936.3,709.34 L937.8,709.62 L939.3,709.90 L940.8,710.18 L942.3,710.47 L943.8,710.77 L945.3,711.07 L946.8,711.39 L948.3,711.71 L949.8,712.04 L951.3,712.38 L952.8,712.72 L954.3,713.08 L955.8,713.45 L957.3,713.84 L958.8,714.23 L960.3,714.64 L961.8,715.06 L963.3,715.49 L964.8,715.94 L966.3,716.41 L967.0,716.63" fill="none" stroke="#1db050" stroke-width="2.4" stroke-linejoin="round" stroke-dasharray="16.5 7.2"/>
<line x1="842.3" y1="560.0" x2="842.3" y2="718.60" stroke="#000" stroke-width="3.2"/>
<line x1="840.7" y1="717.10" x2="1046.3" y2="717.10" stroke="#000" stroke-width="3.2"/>
<path d="M837.4,560.8 L842.3,544.5 L847.2,560.8 Z" fill="#000"/>
<path d="M1045.8,712.30 L1060.8,717.10 L1045.8,721.90 Z" fill="#000"/>
<text transform="translate(834.7,732.6) scale(1.0,1.06)" text-anchor="middle" font-family="Liberation Sans" font-size="20" fill="#111">0</text>
<text transform="translate(873.30,734.6) scale(0.95,1.08)" text-anchor="middle" font-family="Liberation Sans" font-size="17" fill="#111">40</text>
<text transform="translate(912.05,734.6) scale(0.95,1.08)" text-anchor="middle" font-family="Liberation Sans" font-size="17" fill="#111">80</text>
<text transform="translate(950.80,734.6) scale(0.95,1.08)" text-anchor="middle" font-family="Liberation Sans" font-size="17" fill="#111">120</text>
<text transform="translate(989.55,734.6) scale(0.95,1.08)" text-anchor="middle" font-family="Liberation Sans" font-size="17" fill="#111">160</text>
<text transform="translate(1028.30,734.6) scale(0.95,1.08)" text-anchor="middle" font-family="Liberation Sans" font-size="17" fill="#111">200</text>
<text transform="translate(830.0,694.28) scale(0.96,1.07)" text-anchor="middle" font-family="Liberation Sans" font-size="17" fill="#111">3</text>
<text transform="translate(830.0,664.66) scale(0.96,1.07)" text-anchor="middle" font-family="Liberation Sans" font-size="17" fill="#111">6</text>
<text transform="translate(830.0,635.04) scale(0.96,1.07)" text-anchor="middle" font-family="Liberation Sans" font-size="17" fill="#111">9</text>
<text transform="translate(830.0,605.42) scale(0.96,1.07)" text-anchor="middle" font-family="Liberation Sans" font-size="17" fill="#111">12</text>
<text transform="translate(830.0,575.80) scale(0.96,1.07)" text-anchor="middle" font-family="Liberation Sans" font-size="17" fill="#111">15</text>
<line x1="939.3" y1="575.70" x2="989.8" y2="575.70" stroke="#9c3b3b" stroke-opacity="0.75" stroke-width="2"/>
<text transform="translate(992.1,579.70) scale(1.0,1.2)" font-family="Liberation Mono" font-weight="bold" font-size="9.8" fill="#2a2a2a">S1HL/T</text>
<line x1="939.3" y1="590.80" x2="989.8" y2="590.80" stroke="#1f4e8c" stroke-opacity="0.75" stroke-width="2" stroke-dasharray="10.5 3.7 2 3.7"/>
<text transform="translate(992.1,594.80) scale(1.0,1.2)" font-family="Liberation Mono" font-weight="bold" font-size="9.8" fill="#2a2a2a">S1ML/T</text>
<line x1="939.3" y1="605.90" x2="989.8" y2="605.90" stroke="#1db050" stroke-opacity="0.75" stroke-width="2" stroke-dasharray="10 4.4"/>
<text transform="translate(992.1,609.90) scale(1.0,1.2)" font-family="Liberation Mono" font-weight="bold" font-size="9.8" fill="#2a2a2a">S1LL/T</text>
</svg>
</body></html>
